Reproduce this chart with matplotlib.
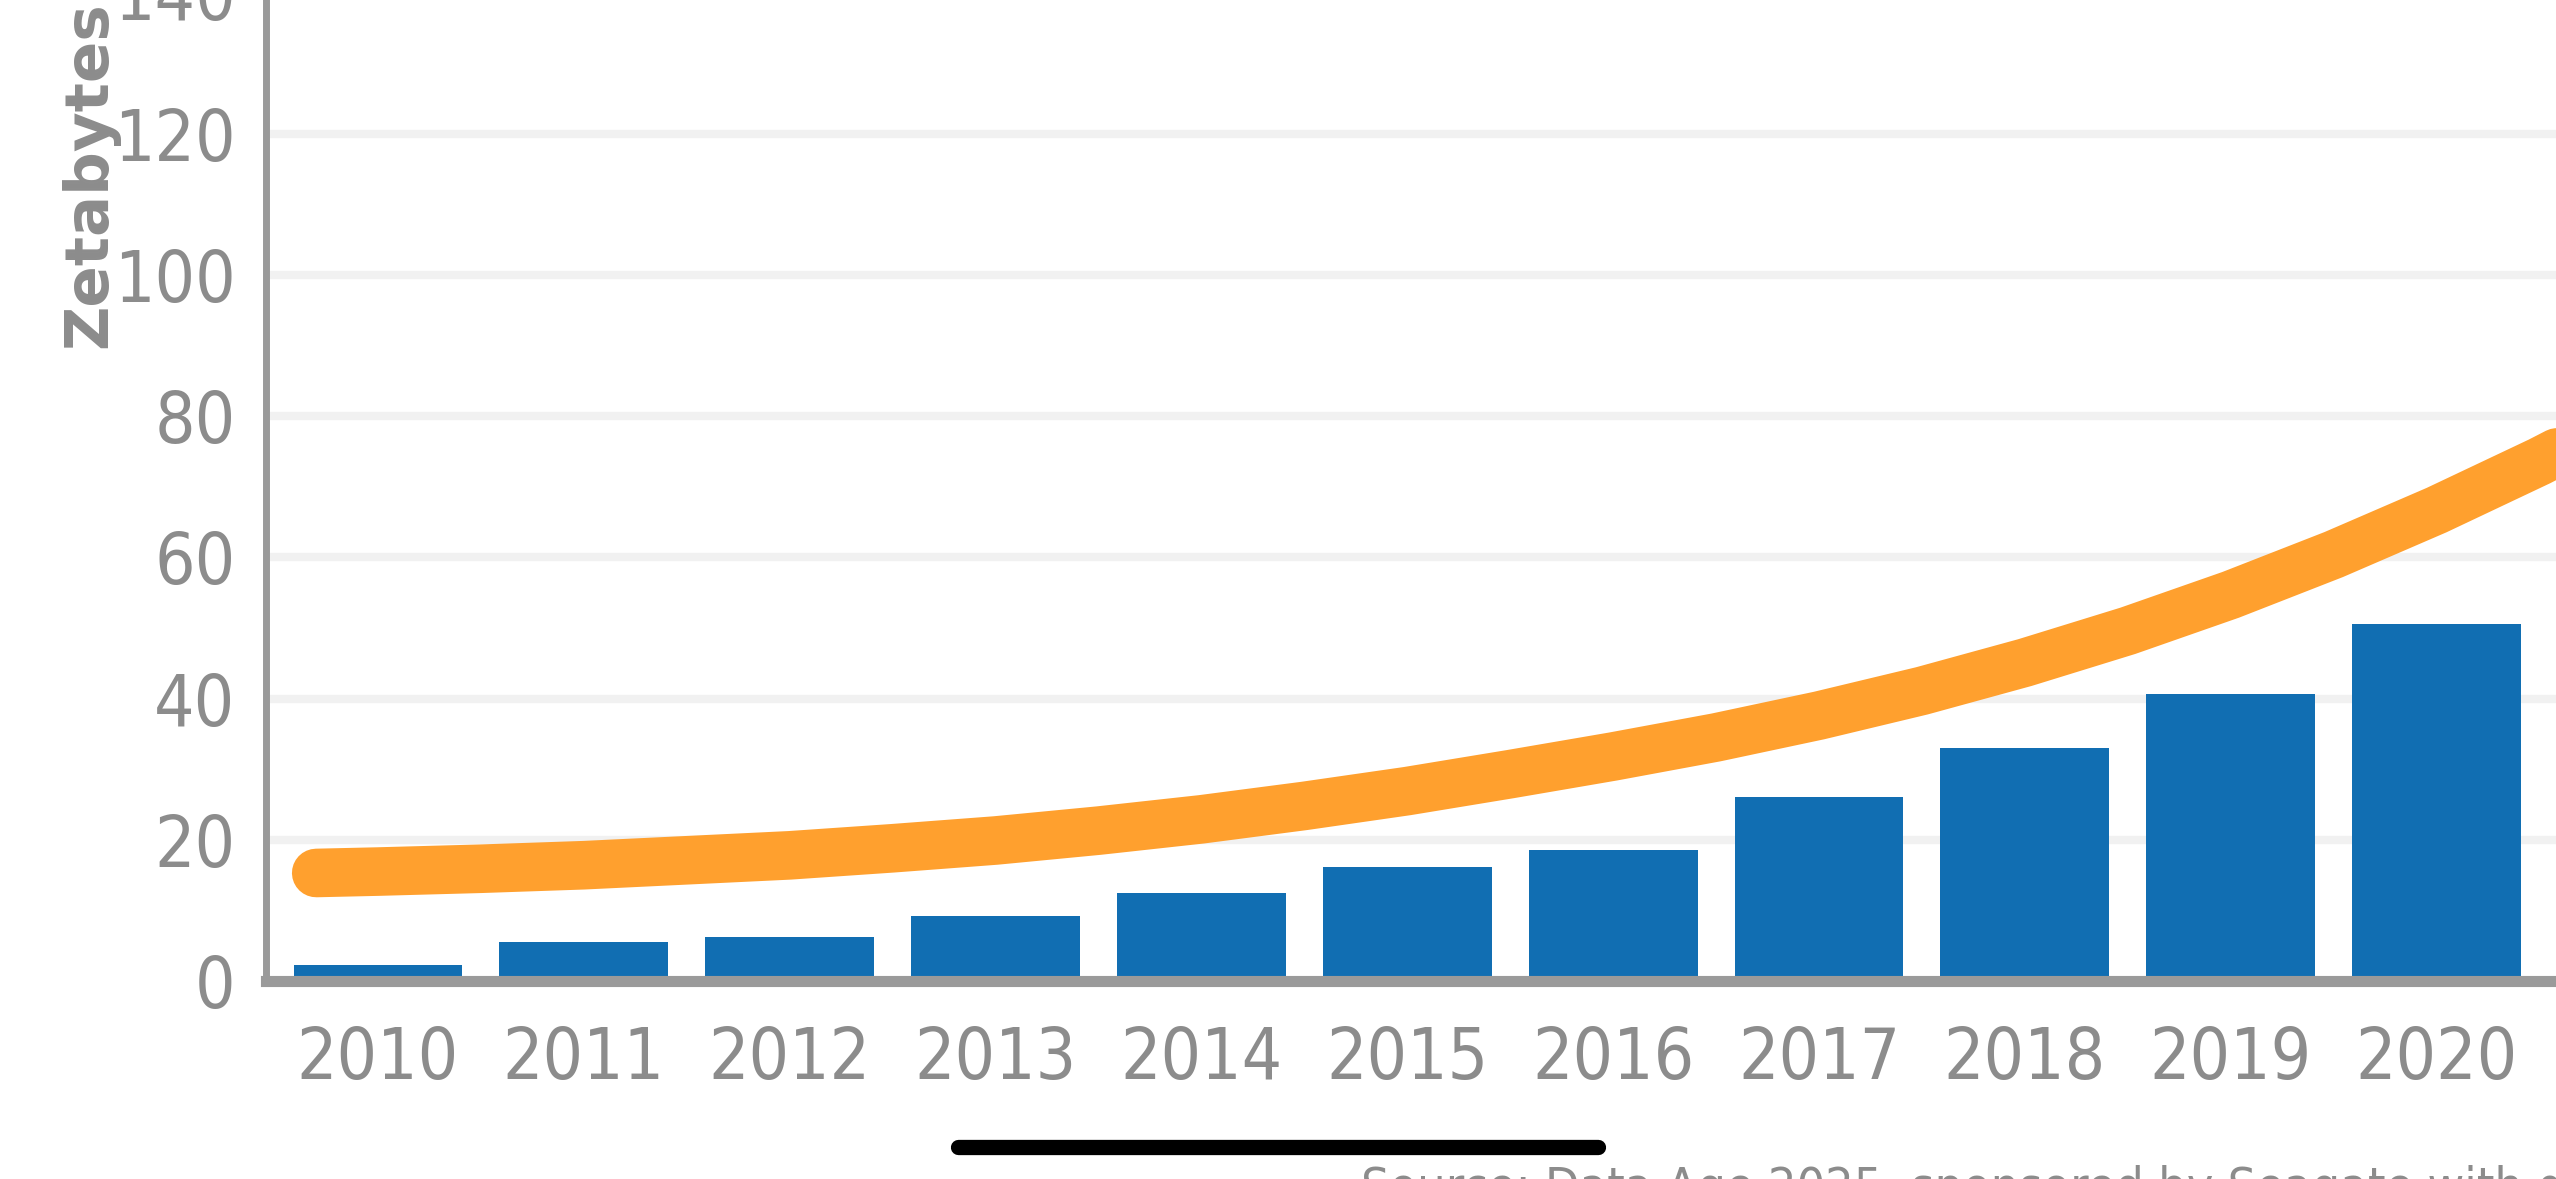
import numpy as np
import matplotlib.pyplot as plt
from matplotlib.lines import Line2D
from matplotlib import font_manager as fm
from matplotlib.font_manager import FontProperties

# data (zettabytes)
years = [2010, 2011, 2012, 2013, 2014, 2015, 2016, 2017, 2018, 2019, 2020, 2021]
bar_values = [2.3, 5.5, 6.2, 9.2, 12.5, 16.1, 18.5, 26.1, 33.0, 40.6, 50.5, 65.0]

# orange trend curve, read every half year
curve_x = [2009.7, 2010, 2010.5, 2011, 2011.5, 2012, 2012.5, 2013, 2013.5, 2014,
           2014.5, 2015, 2015.5, 2016, 2016.5, 2017, 2017.5, 2018, 2018.5, 2019,
           2019.5, 2020, 2020.5, 2021]
curve_y = [15.3, 15.5, 15.9, 16.4, 17.1, 17.8, 18.8, 19.9, 21.3, 22.9,
           24.8, 26.9, 29.3, 31.8, 34.5, 37.6, 41.1, 45.1, 49.6, 54.7,
           60.4, 66.7, 73.6, 81.1]

y_ticks = [0, 20, 40, 60, 80, 100, 120, 140]
x_labels = ['2010', '2011', '2012', '2013', '2014', '2015', '2016', '2017', '2018', '2019', '2020', '2021']

blue = '#116eb2'
orange = '#ffa02e'
gray = '#8c8c8c'
spine_gray = '#9a9a9a'

# the original uses a narrow geometric face; take a condensed one if installed
def pick_tick_font():
    cands = []
    for f in fm.fontManager.ttflist:
        narrow = ('Condensed' in f.name or 'Narrow' in f.name
                  or str(f.stretch) in ('condensed', 'semi-condensed'))
        if narrow and f.style == 'normal' and f.weight in (400, 'normal', 'regular'):
            cands.append(f)
    if cands:
        return FontProperties(fname=cands[0].fname), True
    return FontProperties(family='Lato'), False

tick_fp, is_narrow = pick_tick_font()
tick_size = 51 if is_narrow else 44

W, H = 2556, 1179
fig = plt.figure(figsize=(W / 100, H / 100), dpi=100)
fig.patch.set_facecolor('white')

# axes placed so the picture is a crop of a bigger chart
left = 266 / W
bottom = (H - 981) / H
top = 1 + 7.4 / H
ax = fig.add_axes([left, bottom, 1 - left, top - bottom])

# gridlines
for v in y_ticks[1:]:
    ax.axhline(v, color='#f1f1f1', lw=6, zorder=0)

ax.bar(years, bar_values, width=0.82, color=blue, zorder=2)
ax.plot(curve_x, curve_y, color=orange, lw=35, solid_capstyle='round',
        solid_joinstyle='round', zorder=3)

for s in ['top', 'right']:
    ax.spines[s].set_visible(False)
ax.spines['left'].set_color(spine_gray)
ax.spines['left'].set_linewidth(5)
ax.spines['bottom'].set_color(spine_gray)
ax.spines['bottom'].set_linewidth(8)
ax.spines['left'].set_zorder(4)
ax.spines['bottom'].set_zorder(4)

ax.set_yticks(y_ticks)
ax.set_yticklabels([str(v) for v in y_ticks], fontproperties=tick_fp, fontsize=tick_size, color=gray)
ax.set_xticks(years)
ax.set_xticklabels(x_labels, fontproperties=tick_fp, fontsize=tick_size, color=gray)
ax.tick_params(axis='y', length=0, pad=22)
ax.tick_params(axis='x', length=0, pad=32)

# limits last, set_xticks would widen them
ax.set_xlim(2009.456, 2020.58)
ax.set_ylim(0, 140)

fig.text(90 / W, 1 - 348 / H, 'Zetabytes', rotation=90, ha='center', va='bottom',
         fontsize=44, fontweight='bold', color=gray, family='DejaVu Sans')

fig.text(1361 / W, 1 - 1165 / H,
         'Source: Data Age 2025, sponsored by Seagate with data from IDC Global DataSphere, Nov 2018',
         ha='left', va='top', fontproperties=tick_fp, fontsize=36, color=gray)

# phone home indicator bar
fig.add_artist(Line2D([958 / W, 1598 / W], [1 - 1147 / H, 1 - 1147 / H],
                      transform=fig.transFigure, color='black', lw=11,
                      solid_capstyle='round'))

fig.savefig('out.png', dpi=100, facecolor='white')
